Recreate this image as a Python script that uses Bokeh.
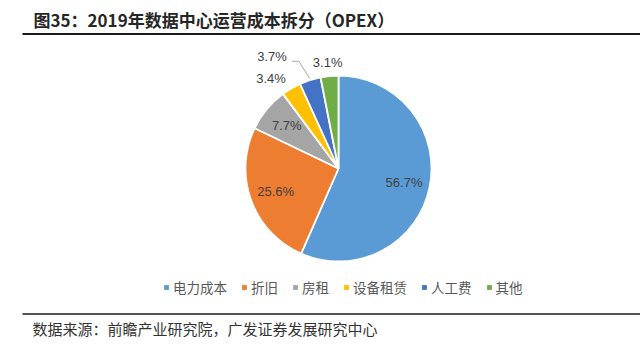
import math
from bokeh.plotting import figure
from bokeh.models import ColumnDataSource, Range1d, Legend, LegendItem
from bokeh.core.properties import value
from bokeh.embed import file_html
from bokeh.resources import INLINE

# ---- data ----
categories = ["电力成本", "折旧", "房租", "设备租赁", "人工费", "其他"]
shares = [56.7, 25.6, 7.7, 3.4, 3.7, 3.1]
labels = ["56.7%", "25.6%", "7.7%", "3.4%", "3.7%", "3.1%"]
colors = ["#5B9BD5", "#ED7D31", "#A5A5A5", "#FFC000", "#4472C4", "#70AD47"]
title_text = "图35：2019年数据中心运营成本拆分（OPEX）"
source_text = "数据来源：前瞻产业研究院，广发证券发展研究中心"

# ---- layout ----
W, H = 640, 362
CX, CY, R = 338, H - 168, 93
CJK = "Noto Sans CJK SC"
NUM = "Liberation Sans"

p = figure(width=W, height=H, output_backend="svg", toolbar_location=None,
           x_range=Range1d(0, W), y_range=Range1d(0, H), min_border=0)
p.axis.visible = False
p.grid.visible = False
p.outline_line_color = None
p.background_fill_color = "white"

total = sum(shares)
cum = 0.0
starts, ends, mids = [], [], []
for s in shares:
    a0 = math.pi / 2 - 2 * math.pi * cum / total
    cum += s
    a1 = math.pi / 2 - 2 * math.pi * cum / total
    starts.append(a1)
    ends.append(a0)
    mids.append((a0 + a1) / 2)

src = ColumnDataSource(dict(start=starts, end=ends, color=colors, cat=categories))
p.wedge(x=CX, y=CY, radius=R, start_angle="start", end_angle="end",
        fill_color="color", line_color="white", line_width=1.8, source=src)

# labels
in_x, in_y, in_t = [], [], []
out_x, out_y, out_t = [], [], []
for i, (m, lab, s) in enumerate(zip(mids, labels, shares)):
    if s >= 5:
        rr = 0.72 * R
        in_x.append(CX + rr * math.cos(m)); in_y.append(CY + rr * math.sin(m)); in_t.append(lab)
    else:
        rr = 1.2 * R
        out_x.append(CX + rr * math.cos(m)); out_y.append(CY + rr * math.sin(m)); out_t.append(lab)

p.text(x=in_x, y=in_y, text=in_t, text_font=value(NUM), text_font_size="13px",
       text_color="#404040", text_align="center", text_baseline="middle")

# outer labels: 3.4% / 3.7% right-aligned (3.7% pushed out with a leader), 3.1% centred
lx = [out_x[0] + 4, out_x[0] + 5, out_x[2]]
ly = [out_y[0] - 6, out_y[1] + 6, out_y[2] - 5]
p.text(x=lx[:2], y=ly[:2], text=out_t[:2], text_font=value(NUM), text_font_size="13px",
       text_color="#404040", text_align="right", text_baseline="middle")
p.text(x=lx[2:], y=ly[2:], text=out_t[2:], text_font=value(NUM), text_font_size="13px",
       text_color="#404040", text_align="center", text_baseline="middle")
m = mids[4]
ex, ey = CX + 1.02 * R * math.cos(m), CY + 1.02 * R * math.sin(m)
p.line(x=[ex, lx[1] + 12, lx[1] + 5], y=[ey, ly[1] - 5, ly[1] - 5],
       line_color="#A6A6A6", line_width=1)

# title, rules, source
p.text(x=[33], y=[H - 18.5], text=[title_text], text_font=value(CJK), text_font_size="17px",
       text_font_style="bold", text_color="#262626", text_align="left", text_baseline="middle")
p.segment(x0=[22], y0=[H - 33.5], x1=[W], y1=[H - 33.5], line_color="#1a1a1a", line_width=2)
p.segment(x0=[22], y0=[H - 313.5], x1=[W], y1=[H - 313.5], line_color="#1a1a1a", line_width=1.6)
p.text(x=[32], y=[H - 328], text=[source_text], text_font=value(CJK), text_font_size="15px",
       text_color="#333333", text_align="left", text_baseline="middle")

# legend (swatches only, no visible data)
nan = float("nan")
items = []
for c, col in zip(categories, colors):
    r = p.quad(left=[nan], right=[nan], top=[nan], bottom=[nan], fill_color=col, line_color=None)
    items.append(LegendItem(label=c, renderers=[r]))
leg = Legend(items=items, orientation="horizontal", location=(163, 65),
             glyph_width=6, glyph_height=6, label_standoff=4, spacing=14,
             label_width=0, label_height=14, padding=0, margin=0,
             border_line_color=None, background_fill_alpha=0,
             label_text_font=CJK, label_text_font_size="13.5px", label_text_color="#595959")
p.add_layout(leg, "center")

open("out.html", "w").write(file_html(p, INLINE))
